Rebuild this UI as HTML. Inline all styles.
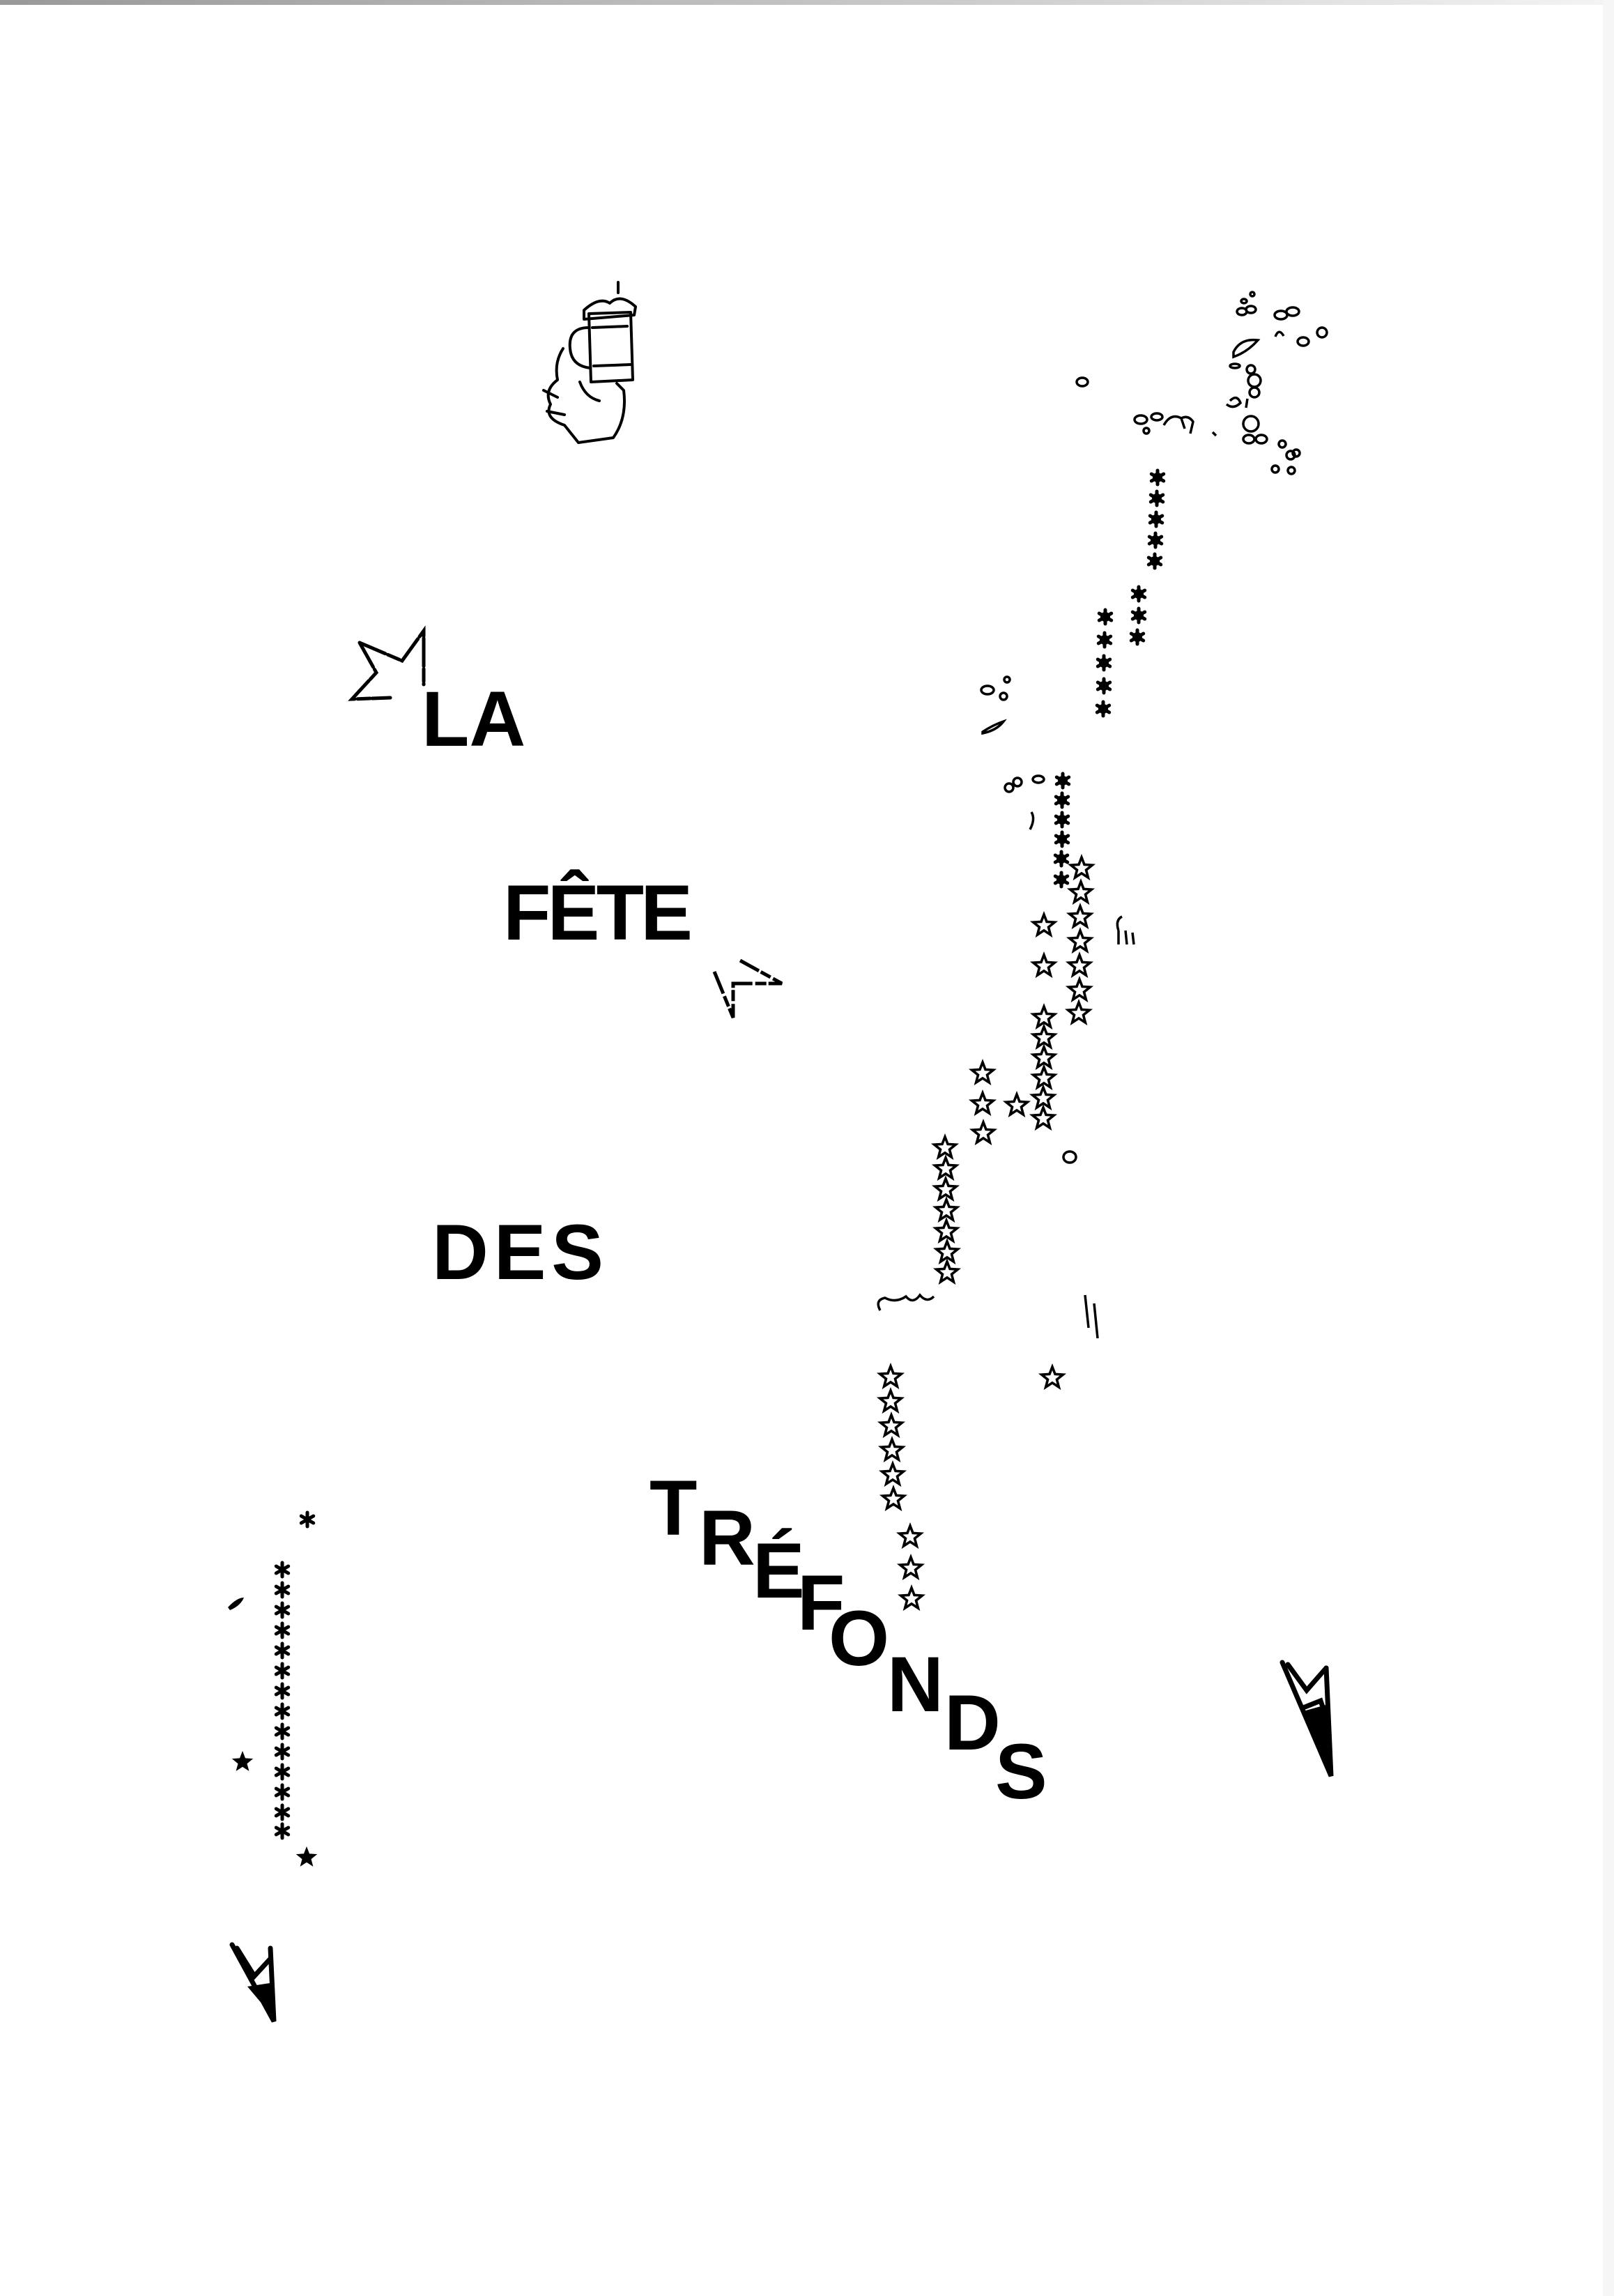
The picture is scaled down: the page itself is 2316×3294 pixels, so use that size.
<!DOCTYPE html>
<html><head><meta charset="utf-8">
<style>
html,body{margin:0;padding:0;background:#fff;}
body{width:2316px;height:3294px;overflow:hidden;position:relative;}
svg{position:absolute;left:0;top:0;}
.t{font-family:"Liberation Sans",Arial,sans-serif;font-weight:bold;font-size:112px;fill:#000;}
</style></head><body>
<svg width="2316" height="3294" viewBox="0 0 2316 3294" xmlns="http://www.w3.org/2000/svg">
<defs>
<linearGradient id="tg" x1="0" x2="1" y1="0" y2="0"><stop offset="0" stop-color="#999"/><stop offset="0.6" stop-color="#ccc"/><stop offset="1" stop-color="#f4f4f4"/></linearGradient>
<path id="os" d="M0,-16 L4,-5.6 15.3,-4.9 6.5,2.2 9.4,13 0,6.9 -9.4,13 -6.5,2.2 -15.3,-4.9 -4,-5.6Z" fill="none" stroke="#000" stroke-width="3.6" stroke-linejoin="miter"/>
<path id="fs" d="M0,-16 L4,-5.6 15.2,-4.9 6.5,2.2 9.4,12.9 0,6.9 -9.4,12.9 -6.5,2.2 -15.2,-4.9 -4,-5.6Z" fill="#000"/>
<g id="ast" stroke="#000" stroke-width="5" stroke-linecap="round"><line x1="0" y1="-10" x2="0" y2="10"/><line x1="-8.7" y1="-5" x2="8.7" y2="5"/><line x1="-8.7" y1="5" x2="8.7" y2="-5"/></g>
<g id="fa"><circle r="7" fill="#000"/><use href="#ast"/></g>
</defs>
<rect x="0" y="0" width="2316" height="7" fill="url(#tg)"/>
<rect x="2300" y="0" width="16" height="3294" fill="#f6f6f6"/>

<text class="t" x="605" y="1070">LA</text>
<text class="t" x="722" y="1348" textLength="272" lengthAdjust="spacing">FÊTE</text>
<text class="t" x="620" y="1835" textLength="246" lengthAdjust="spacing">DES</text>
<text class="t" x="932" y="2202">T</text>
<text class="t" x="1003" y="2245">R</text>
<text class="t" x="1080" y="2292">É</text>
<text class="t" x="1144" y="2338">F</text>
<text class="t" x="1189" y="2389">O</text>
<text class="t" x="1273" y="2455">N</text>
<text class="t" x="1355" y="2510">D</text>
<text class="t" x="1428" y="2580">S</text>

<path d="M516,922 L577,948 L608,905 L608,982 M516,922 L540,965 L505,1003 L560,1001" fill="none" stroke="#000" stroke-width="5" stroke-linecap="round" stroke-dasharray="40 4 18 3"/>
<path d="M1025,1394 L1052,1460 L1052,1411 L1122,1411 L1062,1378" fill="none" stroke="#000" stroke-width="5" stroke-dasharray="34 4 16 3"/>

<g fill="none" stroke="#000" stroke-width="4" stroke-linecap="round" stroke-linejoin="round">
<path d="M845,450 L905,448 L908,545 L848,548 Z"/>
<path d="M838,445 Q860,425 875,435 Q890,420 912,440 L910,452 L838,458 Z"/>
<path d="M850,470 L900,468 M852,525 L905,523"/>
<path d="M845,470 Q815,470 818,500 Q820,525 847,528"/>
<path d="M887,420 L887,405"/>
<path d="M808,500 Q795,520 800,545 Q780,560 790,580 Q780,600 810,610 L830,635 L880,628 Q900,600 895,560 L885,550"/>
<path d="M832,548 Q840,570 860,575"/>
<path d="M780,560 L800,570 M785,590 L810,595"/>
</g>

<g fill="none" stroke="#000" stroke-width="3.5">
<ellipse cx="1782" cy="447" rx="7" ry="5"/><ellipse cx="1795" cy="444" rx="7" ry="5"/><ellipse cx="1785" cy="432" rx="4" ry="3"/><circle cx="1797" cy="422" r="3"/>
<ellipse cx="1838" cy="452" rx="9" ry="6"/><ellipse cx="1855" cy="447" rx="9" ry="6"/>
<path d="M1830,483 Q1835,470 1842,482"/>
<ellipse cx="1870" cy="490" rx="8" ry="6"/><circle cx="1897" cy="477" r="7"/>
<path d="M1770,505 Q1780,485 1805,488 Q1790,505 1770,512 Z"/>
<ellipse cx="1772" cy="525" rx="7" ry="3"/>
<circle cx="1795" cy="530" r="6"/><circle cx="1800" cy="546" r="9"/><circle cx="1800" cy="563" r="7"/>
<path d="M1765,575 Q1775,565 1780,578 Q1770,588 1760,580"/>
<path d="M1790,572 L1788,585"/>
<circle cx="1795" cy="608" r="11"/><ellipse cx="1792" cy="630" rx="8" ry="6"/><ellipse cx="1810" cy="630" rx="8" ry="6"/>
<circle cx="1840" cy="637" r="5"/><circle cx="1852" cy="653" r="6"/><circle cx="1860" cy="650" r="5"/><circle cx="1830" cy="673" r="5"/><circle cx="1853" cy="675" r="5"/>
<ellipse cx="1553" cy="548" rx="8" ry="6"/>
<ellipse cx="1637" cy="602" rx="9" ry="6"/><ellipse cx="1660" cy="598" rx="8" ry="5"/><circle cx="1645" cy="618" r="4"/>
<path d="M1670,610 Q1680,592 1695,600 L1700,615 M1695,600 Q1705,595 1712,605 L1708,622"/>
<path d="M1740,620 L1745,625"/>
<ellipse cx="1417" cy="990" rx="9" ry="6"/><circle cx="1440" cy="999" r="5"/><circle cx="1445" cy="975" r="4"/>
<path d="M1410,1050 Q1425,1040 1440,1035 Q1430,1048 1410,1052 Z"/>
<circle cx="1448" cy="1130" r="6"/><circle cx="1460" cy="1122" r="6"/><ellipse cx="1490" cy="1118" rx="8" ry="5"/>
<path d="M1480,1165 Q1486,1175 1478,1190"/>
<path d="M1605,1335 Q1600,1320 1610,1315 M1605,1335 L1605,1355 M1615,1335 L1617,1355 M1625,1338 L1627,1355"/>
<ellipse cx="1535" cy="1660" rx="9" ry="8"/>
<path d="M1263,1880 Q1255,1865 1270,1862 Q1285,1870 1300,1860 Q1310,1872 1320,1858 Q1330,1870 1340,1860"/>
<path d="M1557,1858 L1562,1905 M1570,1870 L1575,1920"/>
</g>

<g>
<use href="#fa" x="1661" y="685"/><use href="#fa" x="1660" y="715"/><use href="#fa" x="1659" y="745"/><use href="#fa" x="1658" y="775"/><use href="#fa" x="1657" y="805"/>
<use href="#fa" x="1634" y="852"/><use href="#fa" x="1634" y="883"/><use href="#fa" x="1632" y="914"/>
<use href="#fa" x="1586" y="885"/><use href="#fa" x="1585" y="918"/><use href="#fa" x="1584" y="951"/><use href="#fa" x="1584" y="984"/><use href="#fa" x="1583" y="1017"/>
<use href="#fa" x="1525" y="1120"/><use href="#fa" x="1524" y="1148"/><use href="#fa" x="1524" y="1176"/><use href="#fa" x="1524" y="1204"/><use href="#fa" x="1523" y="1232"/><use href="#fa" x="1523" y="1262"/>
</g>

<g>
<use href="#os" x="1552" y="1246"/><use href="#os" x="1551" y="1281"/><use href="#os" x="1550" y="1316"/><use href="#os" x="1550" y="1351"/><use href="#os" x="1549" y="1386"/><use href="#os" x="1549" y="1421"/><use href="#os" x="1548" y="1454"/>
<use href="#os" x="1498" y="1328"/><use href="#os" x="1498" y="1386"/>
<use href="#os" x="1498" y="1460"/><use href="#os" x="1498" y="1489"/><use href="#os" x="1498" y="1518"/><use href="#os" x="1498" y="1547"/><use href="#os" x="1497" y="1576"/><use href="#os" x="1497" y="1605"/>
<use href="#os" x="1410" y="1540"/><use href="#os" x="1410" y="1584"/><use href="#os" x="1411" y="1626"/>
<use href="#os" x="1459" y="1586"/>
<use href="#os" x="1356" y="1647"/><use href="#os" x="1357" y="1677"/><use href="#os" x="1357" y="1707"/><use href="#os" x="1358" y="1737"/><use href="#os" x="1358" y="1767"/><use href="#os" x="1359" y="1797"/><use href="#os" x="1359" y="1826"/>
<use href="#os" x="1278" y="1976"/><use href="#os" x="1278" y="2011"/><use href="#os" x="1279" y="2046"/><use href="#os" x="1280" y="2081"/><use href="#os" x="1281" y="2116"/><use href="#os" x="1282" y="2151"/>
<use href="#os" x="1306" y="2205"/><use href="#os" x="1307" y="2250"/><use href="#os" x="1308" y="2294"/>
<use href="#os" x="1510" y="1977"/>
</g>

<g>
<use href="#ast" x="441" y="2180"/>
<use href="#ast" x="405" y="2252"/><use href="#ast" x="405" y="2281"/><use href="#ast" x="405" y="2310"/><use href="#ast" x="405" y="2339"/><use href="#ast" x="405" y="2368"/><use href="#ast" x="405" y="2397"/><use href="#ast" x="405" y="2426"/><use href="#ast" x="405" y="2455"/><use href="#ast" x="405" y="2484"/><use href="#ast" x="405" y="2513"/><use href="#ast" x="405" y="2542"/><use href="#ast" x="405" y="2571"/><use href="#ast" x="405" y="2600"/><use href="#ast" x="405" y="2627"/>
<use href="#fs" x="348" y="2528"/><use href="#fs" x="440" y="2665"/>
<path d="M327,2306 Q340,2292 350,2292 Q345,2304 330,2310 Z" fill="#000"/>
</g>

<g fill="none" stroke="#000" stroke-width="7" stroke-linejoin="miter" stroke-linecap="round">
<path d="M1840,2385 L1910,2548 L1903,2393"/>
<path d="M1848,2388 L1875,2425 L1903,2393"/>
<path d="M1870,2450 L1895,2440 L1905,2470"/>
<path d="M333,2790 L393,2900 L388,2795"/>
<path d="M340,2795 L365,2835 L388,2810"/>
</g>
<path d="M1870,2455 L1906,2445 L1912,2548 Z" fill="#000"/>
<path d="M355,2850 L388,2845 L393,2895 Z" fill="#000"/>
</svg>
</body></html>
